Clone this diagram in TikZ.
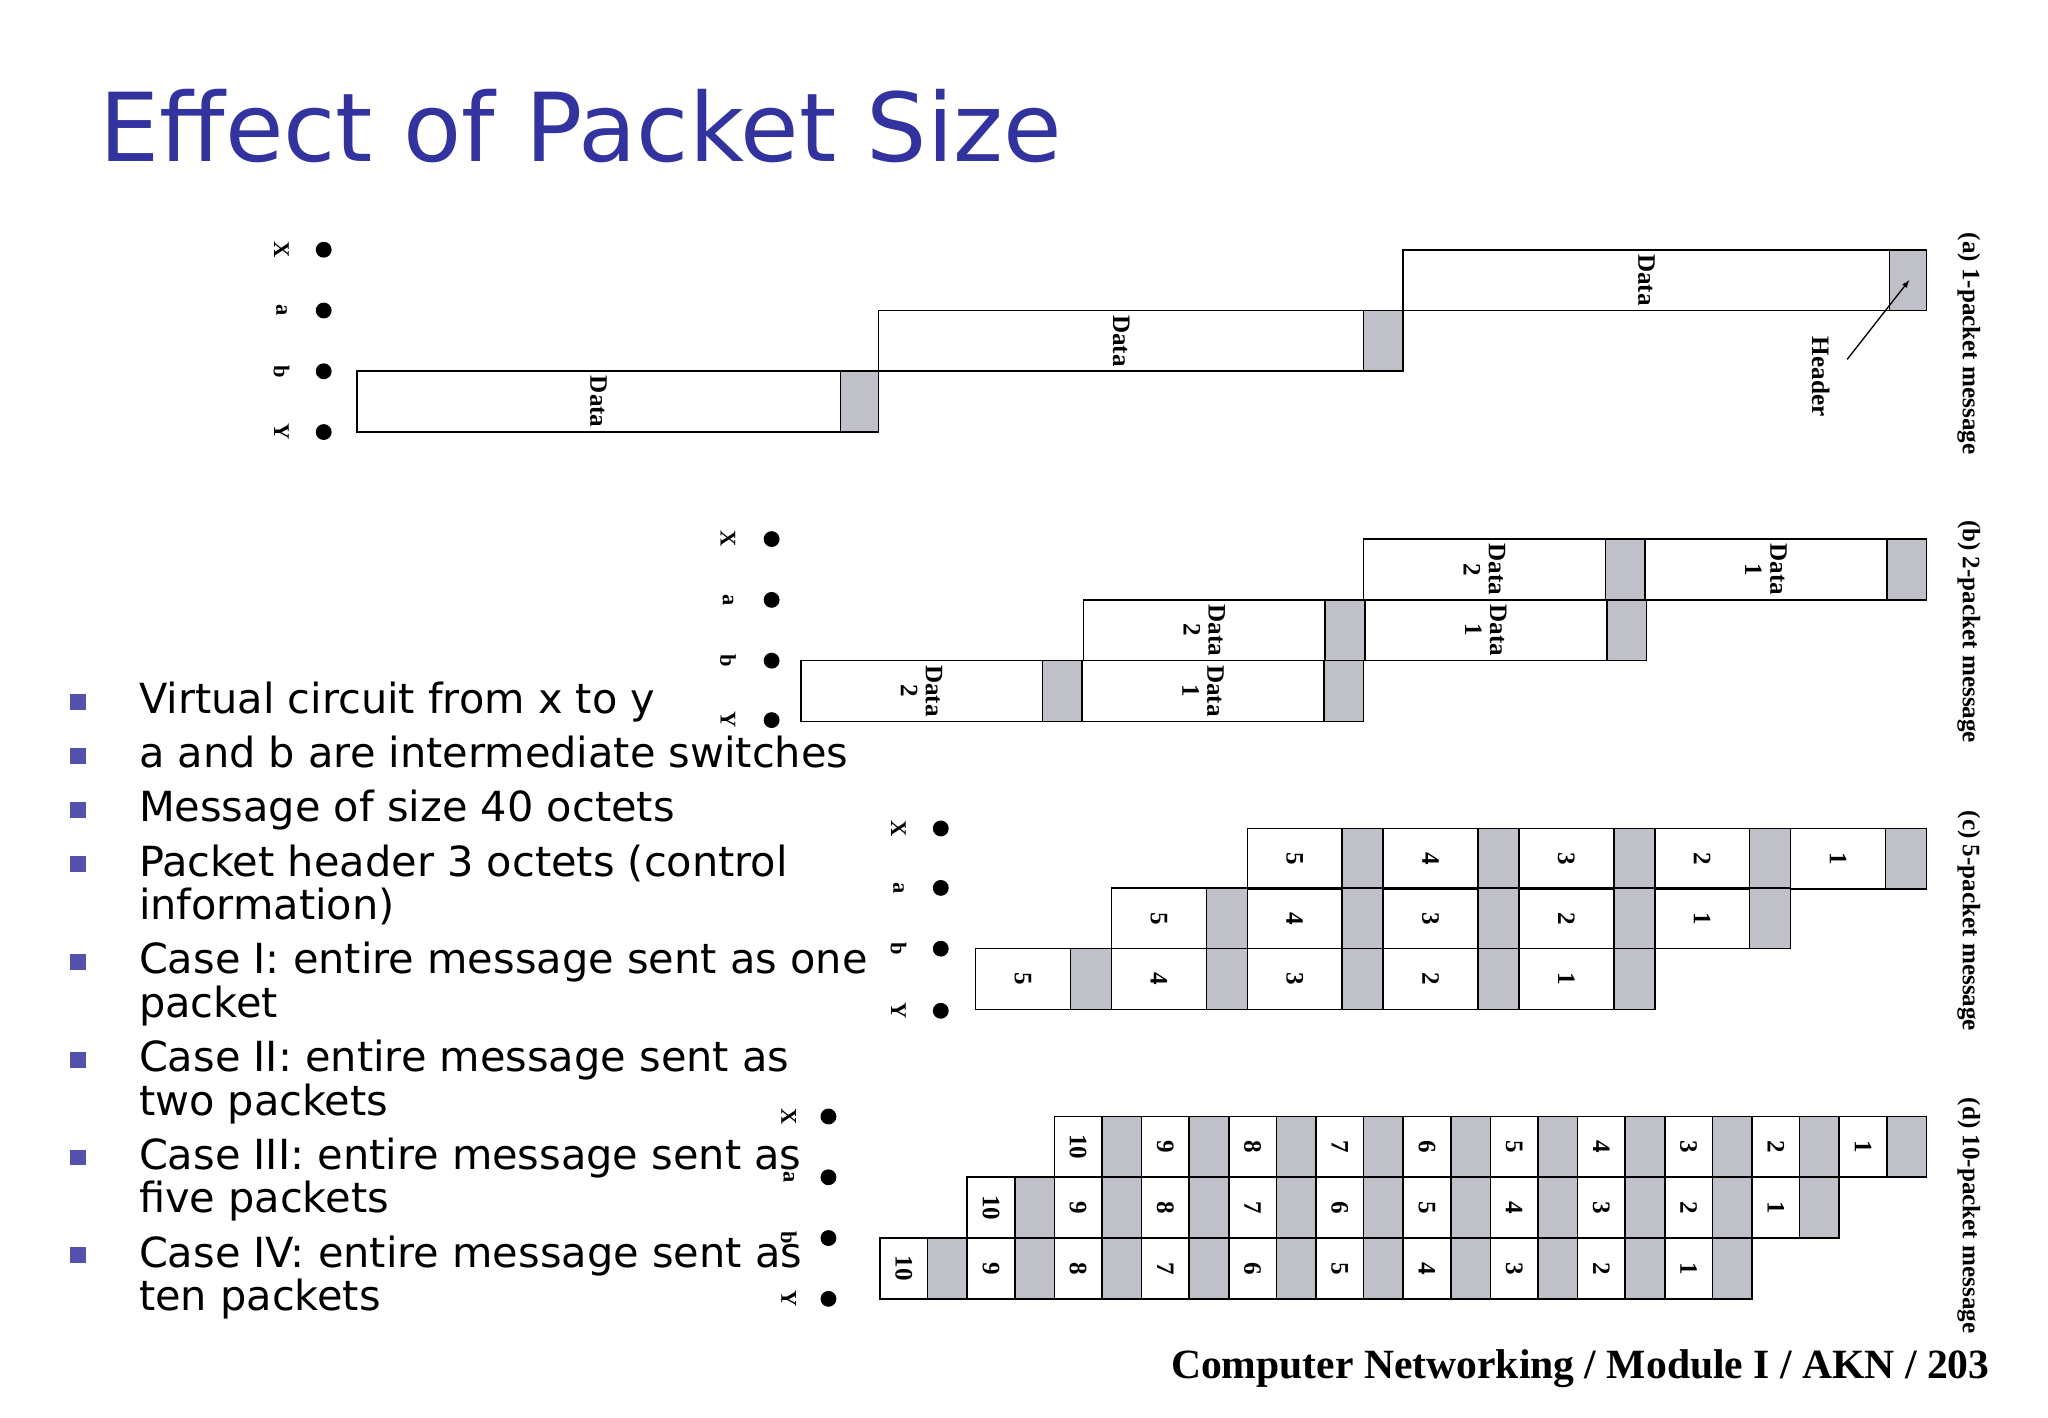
\documentclass[tikz,border=0pt]{standalone}
\usepackage{fontspec}
\setmainfont{Liberation Serif}
\newfontfamily\slide{DejaVu Sans}
\definecolor{ttl}{RGB}{51,51,160}
\definecolor{hdr}{RGB}{192,192,200}
\begin{document}
\begin{tikzpicture}[x=1pt,y=-1pt,
  lab/.style={font=\fontsize{19}{19}\selectfont\bfseries,rotate=-90,inner sep=0,align=center},
  rcap/.style={font=\fontsize{19}{19}\selectfont\bfseries,rotate=-90,inner sep=0},
  bl/.style={anchor=base west,inner sep=0,font=\slide\fontsize{31.4}{31.4}\selectfont}]
\useasboundingbox (0,0) rectangle (1550,1073);
\newcommand\prow[6]{%
 \foreach \i in {1,...,#5}{%
   \pgfmathsetmacro\R{#2-(\i-1)*#3}%
   \fill[hdr] (\R-#4,#1) rectangle (\R,#1+46);
   \draw[line width=1.2] (\R-#3,#1) rectangle (\R,#1+46);
   \draw[line width=1.2] (\R-#4,#1) -- (\R-#4,#1+46);
   \node[lab] at ({\R-#4-(#3-#4)/2},#1+23) {#6};
 }}
\newcommand\nodes[5]{%
 \foreach \yy/\t in {#3/X,#4/a,#5/b}{\fill (#1,\yy) circle (6); \node[rcap,font=\fontsize{17}{17}\selectfont\bfseries] at (#2,\yy) {\t};}}
\newcommand\ynode[3]{\fill (#1,#3) circle (6); \node[rcap,font=\fontsize{17}{17}\selectfont\bfseries] at (#2,#3) {Y};}
% title
\node[anchor=base west,inner sep=0,text=ttl,font=\slide\fontsize{72}{72}\selectfont] at (75,122) {Effect of Packet Size};
% (a)
\nodes{245}{213}{189}{235}{281}\ynode{245}{213}{327}
\prow{189}{1458}{396}{28}{1}{Data}
\prow{235}{1062}{397}{30}{1}{Data}
\prow{281}{665}{395}{29}{1}{Data}
\node[lab] (hl) at (1378,285) {Header};
\coordinate (ht) at (1445,212);
\draw[-latex,line width=1] (1398,272) -- (ht);
\node[rcap] at (1490,260) {(a) 1-packet message};
% (b)
\nodes{584}{551}{408}{454}{500}\ynode{584}{551}{545}
\prow{408}{1458}{213}{30}{2}{Data\\\i}
\prow{454}{1246}{213}{30}{2}{Data\\\i}
\prow{500}{1032}{213}{30}{2}{Data\\\i}
\node[rcap] at (1490,478) {(b) 2-packet message};
% (c)
\nodes{712}{680}{627}{672}{718}\ynode{712}{680}{765}
\prow{627}{1458}{102.8}{31}{5}{\i}
\prow{672}{1355.2}{102.8}{31}{5}{\i}
\prow{718}{1252.4}{102.8}{31}{5}{\i}
\node[rcap] at (1490,697) {(c) 5-packet message};
% (d)
\nodes{627}{597}{845}{891}{937}\ynode{627}{597}{983}
\prow{845}{1458}{66}{30}{10}{\i}
\prow{891}{1392}{66}{30}{10}{\i}
\prow{937}{1326}{66}{30}{10}{\i}
\node[rcap] at (1490,920) {(d) 10-packet message};
% bullets
\foreach \yy in {540,581,622,663,737,811,885,959}
  \fill[ttl!85] (53,\yy-15) rectangle (65,\yy-3);
\foreach \yy/\t in {540/{Virtual circuit from x to y},581/{a and b are intermediate switches},622/{Message of size 40 octets},663/{Packet header 3 octets (control},696/{information)},737/{Case I: entire message sent as one},770/{packet},811/{Case II: entire message sent as},844/{two packets},885/{Case III: entire message sent as},918/{five packets},959/{Case IV: entire message sent as},992/{ten packets}}
  \node[bl] at (105,\yy) {\t};
\node[anchor=base east,inner sep=0,font=\fontsize{31.5}{31.5}\selectfont\bfseries] at (1506,1043) {Computer Networking / Module I / AKN / 203};
\end{tikzpicture}
\end{document}
